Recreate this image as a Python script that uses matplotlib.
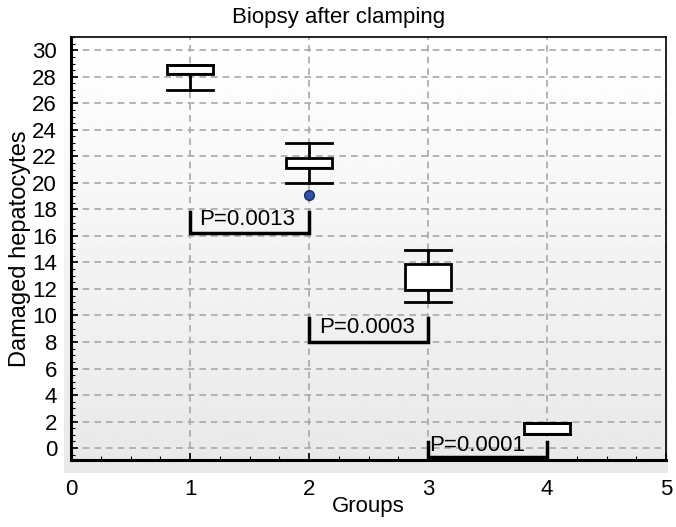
import numpy as np
import matplotlib
matplotlib.use("Agg")
import matplotlib.pyplot as plt
from matplotlib.ticker import MultipleLocator

plt.rcParams['font.family'] = ['Liberation Sans', 'DejaVu Sans']

# box statistics
groups = [1, 2, 3, 4]
whis_lo = [27, 20, 11, 1.05]
q1 = [28.2, 21.1, 11.9, 1.05]
med = [28.2, 21.1, 11.9, 1.05]
q3 = [28.9, 21.9, 13.9, 1.9]
whis_hi = [28.9, 23.0, 14.9, 1.9]
fliers = [[], [19.1], [], []]

# significance brackets: (x start, x end, bracket bottom, bracket top, label x, label y, label)
brackets = [
    (1, 2, 16.2, 17.8, 1.48, 17.2, "P=0.0013"),
    (2, 3, 8.0, 9.8, 2.49, 9.1, "P=0.0003"),
    (3, 4, -0.68, 0.45, 3.41, 0.2, "P=0.0001"),
]

fs = 16

fig = plt.figure(figsize=(6.76, 5.27), dpi=100)

# gradient background behind the plot area
bg = fig.add_axes([64 / 676, (527 - 473) / 527, (668 - 64) / 676, (473 - 37) / 527])
grad = np.linspace(1.0, 0.91, 256).reshape(-1, 1)
bg.imshow(grad, cmap="gray", vmin=0, vmax=1, aspect="auto", extent=[0, 1, 0, 1])
bg.set_axis_off()

ax = fig.add_axes([71 / 676, (527 - 460) / 527, (666 - 71) / 676, (460 - 37) / 527])
ax.patch.set_alpha(0)

stats = []
for i in range(len(groups)):
    stats.append(dict(whislo=whis_lo[i], q1=q1[i], med=med[i], q3=q3[i],
                      whishi=whis_hi[i], fliers=fliers[i]))

ax.bxp(stats, positions=groups, widths=0.38, patch_artist=True,
       boxprops=dict(facecolor="white", edgecolor="black", linewidth=2),
       whiskerprops=dict(color="black", linewidth=2),
       capprops=dict(color="black", linewidth=2),
       medianprops=dict(color="black", linewidth=1.5),
       flierprops=dict(marker="o", markerfacecolor="#3450a8", markeredgecolor="#1a2a60",
                       markersize=7),
       capwidths=0.38, manage_ticks=False, zorder=3)

for x0, x1, yb, yt, tx, ty, lab in brackets:
    ax.plot([x0, x0, x1, x1], [yt, yb, yb, yt], color="black", linewidth=2.5, zorder=4,
            solid_joinstyle="miter")
    ax.text(tx, ty, lab, ha="center", va="center", fontsize=fs, zorder=5)

ax.set_xlim(0, 5)
ax.set_ylim(-0.9, 31)
ax.set_xticks(range(0, 6))
ax.set_yticks(range(0, 31, 2))
ax.xaxis.set_minor_locator(MultipleLocator(0.25))
ax.yaxis.set_minor_locator(MultipleLocator(0.5))
ax.tick_params(which="both", direction="in", labelsize=fs, color="black")
ax.tick_params(which="major", length=5, width=1.2)
ax.tick_params(which="minor", length=3, width=0.8)
ax.tick_params(axis="x", which="major", pad=14)
ax.tick_params(axis="y", which="major", pad=10)
ax.grid(True, linestyle=(0, (4, 3)), color="#a8a8a8", linewidth=1.2, zorder=0)
ax.set_axisbelow(True)

for side in ["left", "bottom"]:
    ax.spines[side].set_linewidth(2.2)
for side in ["top", "right"]:
    ax.spines[side].set_linewidth(1.2)

fig.text(339 / 676, 1 - 18 / 527, "Biopsy after clamping", fontsize=fs, ha="center", va="center")
ax.set_xlabel("Groups", fontsize=fs, labelpad=-3)
ax.set_ylabel("Damaged hepatocytes", fontsize=fs + 1, labelpad=1)

fig.savefig("out.png", dpi=100)
